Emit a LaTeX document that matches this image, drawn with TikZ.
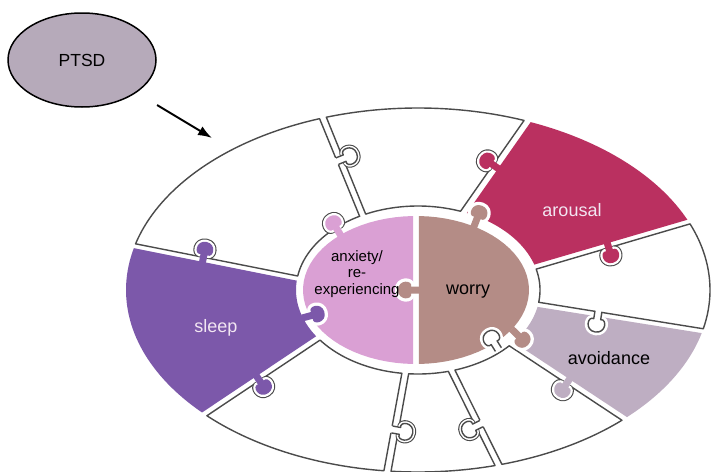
\documentclass[tikz,border=0pt]{standalone}
\usepackage{fontspec}
\setmainfont{Liberation Sans}
\usepackage{xcolor}
\usepackage{tikz}
\usetikzlibrary{positioning,shapes.geometric,arrows.meta}

\definecolor{sleepcol}{RGB}{124,88,170}
\definecolor{anxcol}{RGB}{218,160,212}
\definecolor{worrycol}{RGB}{180,140,134}
\definecolor{arousalcol}{RGB}{186,48,96}
\definecolor{avoidcol}{RGB}{190,174,194}
\definecolor{ptsdcol}{RGB}{182,170,186}
\definecolor{edgegray}{RGB}{75,75,75}
\definecolor{labelwhite}{RGB}{242,230,242}

% puzzle knob: position, direction, fill, own edge, notch edge
\newcommand{\knob}[5]{%
  \begin{scope}[shift={(#1)}, rotate=#2]
    \draw[#5, line width=6.6pt] (2.5,-3.5) -- (5,-3.5) .. controls (3,-10) and (18,-11) .. (18,0) .. controls (18,11) and (3,10) .. (5,3.5) -- (2.5,3.5);
    \draw[white, line width=4.4pt] (2.5,-3.5) -- (5,-3.5) .. controls (3,-10) and (18,-11) .. (18,0) .. controls (18,11) and (3,10) .. (5,3.5) -- (2.5,3.5);
    \fill[#3] (-5,-3.5) -- (5,-3.5) .. controls (3,-10) and (18,-11) .. (18,0) .. controls (18,11) and (3,10) .. (5,3.5) -- (-5,3.5) -- cycle;
    \draw[draw=#4, line width=1.4pt] (-3,-3.5) -- (5,-3.5) .. controls (3,-10) and (18,-11) .. (18,0) .. controls (18,11) and (3,10) .. (5,3.5) -- (-3,3.5);
  \end{scope}}

\tikzset{
  declare function={ox(\t)=418+292*cos(\t); oy(\t)=290+182*sin(\t);
                    ix(\t)=418+122*cos(\t); iy(\t)=290+84*sin(\t);
                    hx(\t)=416+113*cos(\t); hy(\t)=290+74*sin(\t);},
  piece/.style={draw=edgegray, line width=1.4pt, fill=white},
  ptsdnode/.style={ellipse, draw=black, line width=1.5pt, fill=ptsdcol, minimum width=148pt, minimum height=94pt, inner sep=0pt, font=\fontsize{17.5}{19}\selectfont},
  ptsdarrow/.style={-{Latex[length=14pt,width=10pt]}, line width=1.9pt, shorten <=24pt},
  lbl/.style={font=\fontsize{18}{20}\selectfont},
  lblw/.style={lbl, text=labelwhite},
  lblsmall/.style={align=center, font=\fontsize{15}{16.5}\selectfont}
}

\begin{document}
\begin{tikzpicture}[x=1pt, y=-1pt, line join=round, samples=40]
	\useasboundingbox[fill=white] (0,0) rectangle (711,471);
	
	% outer ring pieces
	\filldraw[piece] plot[domain=194.7:250.3] ({ox(\x)},{oy(\x)}) -- plot[domain=241.4:189.6] ({ix(\x)},{iy(\x)}) -- cycle;
	\filldraw[piece] plot[domain=251.7:291.3] ({ox(\x)},{oy(\x)}) -- plot[domain=290.4:244.6] ({ix(\x)},{iy(\x)}) -- cycle;
	\fill[arousalcol] plot[domain=292.7:337.3] ({ox(\x)},{oy(\x)}) -- plot[domain=342.4:293.6] ({ix(\x)},{iy(\x)}) -- cycle;
	\filldraw[piece] plot[domain=338.7:372.3] ({ox(\x)},{oy(\x)}) -- plot[domain=368.4:345.6] ({ix(\x)},{iy(\x)}) -- cycle;
	\fill[avoidcol] plot[domain=373.7:404.3] ({ox(\x)},{oy(\x)}) -- plot[domain=398.4:371.6] ({ix(\x)},{iy(\x)}) -- cycle;
	\filldraw[piece] plot[domain=405.7:433.3] ({ox(\x)},{oy(\x)}) -- plot[domain=432.4:401.6] ({ix(\x)},{iy(\x)}) -- cycle;
	\filldraw[piece] plot[domain=434.7:455.3] ({ox(\x)},{oy(\x)}) -- plot[domain=454.4:435.6] ({ix(\x)},{iy(\x)}) -- cycle;
	\filldraw[piece] plot[domain=456.7:496.3] ({ox(\x)},{oy(\x)}) -- plot[domain=503.4:457.6] ({ix(\x)},{iy(\x)}) -- cycle;
	\fill[sleepcol] plot[domain=497.7:553.3] ({ox(\x)},{oy(\x)}) -- plot[domain=546.4:506.6] ({ix(\x)},{iy(\x)}) -- cycle;
	
	% centre hub
	\fill[anxcol] plot[domain=91.5:268.5] ({hx(\x)},{hy(\x)}) -- cycle;
	\fill[worrycol] plot[domain=-88.5:88.5] ({hx(\x)},{hy(\x)}) -- cycle;
	
	% knobs
	\knob{203,259.6}{78.8}{sleepcol}{none}{edgegray}
	\knob{340,160}{22.2}{white}{edgegray}{edgegray}
	\knob{338.7,232}{121}{anxcol}{none}{edgegray}
	\knob{495.6,166.7}{145}{arousalcol}{none}{edgegray}
	\knob{475.5,222.5}{69}{worrycol}{none}{white}
	\knob{608,245.5}{-73.6}{arousalcol}{none}{edgegray}
	\knob{598,314.2}{-99.1}{white}{edgegray}{white}
	\knob{515.1,332.5}{-44.2}{worrycol}{none}{white}
	\knob{568,381.4}{-123.5}{avoidcol}{none}{edgegray}
	\knob{496.8,347}{121.9}{white}{edgegray}{white}
	\knob{478.6,425}{-153.6}{white}{edgegray}{edgegray}
	\knob{395,430}{-10.3}{white}{edgegray}{edgegray}
	\knob{258,378.3}{-56.3}{sleepcol}{none}{edgegray}
	\knob{307,316.7}{15}{sleepcol}{none}{white}
	\knob{416,290}{180}{worrycol}{none}{white}
	
	% labels
	\node[lblsmall] (lblanx) at (357,274) {anxiety/\\re-\\experiencing};
	\node[lbl] (lblworry) at (468,292) {worry};
	\node[lblw] (lblsleep) at (216,328) {sleep};
	\node[lblw] (lblarousal) at (572,210) {arousal};
	\node[lbl] (lblavoid) at (609,358) {avoidance};
	
	% PTSD
	\node[ptsdnode] (ptsd) at (82,60) {PTSD};
	\coordinate (arrowtip) at (212,138);
	\draw[ptsdarrow] (ptsd) -- (arrowtip);
\end{tikzpicture}
\end{document}
